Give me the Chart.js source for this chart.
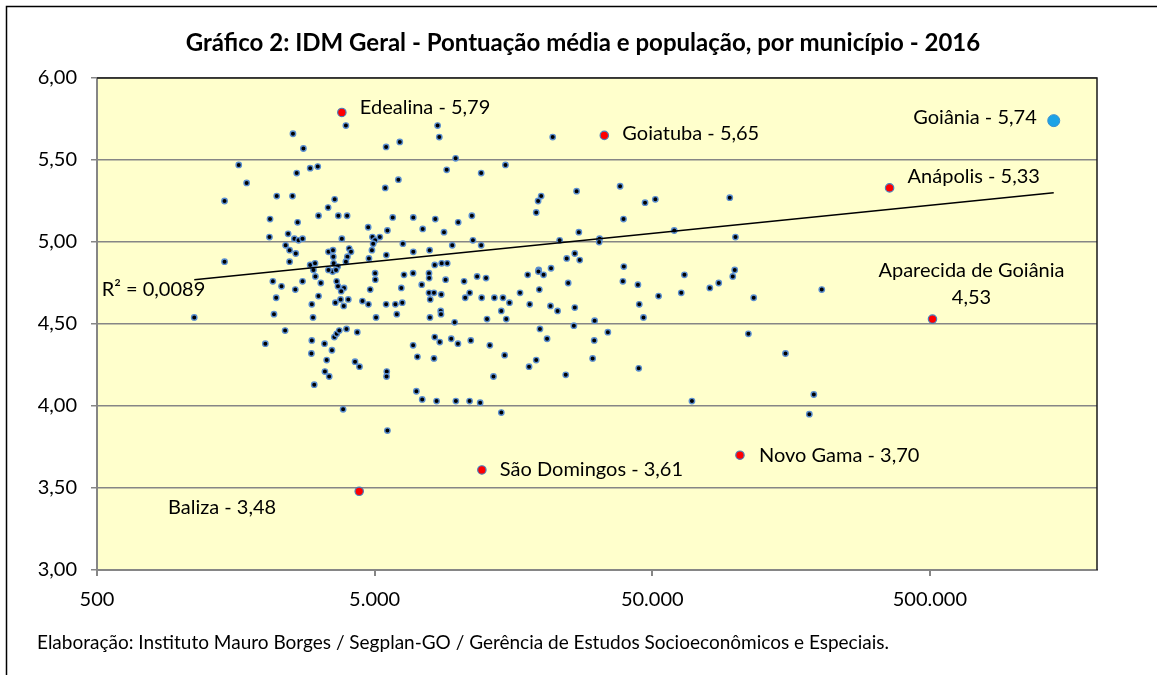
<!DOCTYPE html>
<html>
<head>
<meta charset="utf-8">
<title>IDM Geral 2016</title>
<script src="https://cdn.jsdelivr.net/npm/chart.js@4.4.1/dist/chart.umd.min.js"></script>
<style>
  html, body { margin: 0; padding: 0; background: #fff; }
  #wrap { width: 1157px; height: 675px; }
</style>
</head>
<body>
<div id="wrap"><canvas id="idmChart" width="1157" height="675"></canvas></div>
<script>
// população e pontuação IDM dos municípios
const popMunicipios = [
  3940, 2540, 2770, 5500, 1620, 2620, 2930, 3120, 1730, 5460,
  1440, 2220, 2530, 3590, 3400, 2100, 2640, 3140, 3700, 3980,
  4740, 5560, 2090, 2440, 2570, 2660, 2750, 3810, 4910, 5220,
  5020, 4940, 2390, 2470, 2600, 3410, 3540, 4050, 4110, 3990,
  4890, 5510, 4770, 1440, 2470, 2930, 3050, 3550, 3560, 3940,
  3680, 3530, 3410, 3630, 3010, 3060, 3200, 2150, 2310, 2750,
  2590, 2210, 2170, 1120, 3650, 3690, 3880, 3790, 3770, 4020,
  3610, 3870, 3140, 2970, 3000, 5020, 5030, 4820, 4520, 4750,
  5500, 5060, 2380, 2020, 2970, 2960, 3030, 3300, 3510, 3360,
  3310, 3430, 3580, 3650, 3730, 3960, 4330, 4250, 4410, 3850,
  5530, 5520, 5560, 8430, 8550, 6160, 21900, 9790, 9090, 12100,
  14800, 6090, 26700, 19900, 19400, 19100, 5810, 6890, 8270, 11200,
  10000, 7450, 8890, 27200, 6320, 9520, 11300, 12100, 23200, 6890,
  7890, 24600, 26300, 27400, 8230, 8720, 9130, 19500, 21600, 6380,
  6880, 7850, 7860, 7390, 6240, 9010, 10500, 11700, 12600, 7850,
  8180, 8690, 7930, 11000, 10600, 12150, 13500, 14500, 15300, 14300,
  14900, 12700, 5940, 6290, 6010, 7910, 8650, 8670, 9710, 17800,
  19450, 20300, 24900, 16700, 19600, 18100, 21500, 22800, 26300, 26100,
  19700, 20900, 8230, 8580, 9440, 9980, 11100, 13000, 14700, 6880,
  7130, 8180, 13400, 19100, 18000, 24400, 7070, 7420, 8360, 9810,
  10990, 12000, 14300, 38300, 47100, 51300, 95100, 39400, 60000, 32300,
  32200, 99700, 39500, 99100, 39200, 44400, 52700, 44900, 46500, 31000,
  34600, 30900, 30500, 44700, 65300, 63600, 80600, 86800, 97500, 116000,
  111000, 151000, 69500, 191000, 184000, 204000
];
const idmMunicipios = [
  5.71, 5.66, 5.57, 5.58, 5.47, 5.42, 5.45, 5.46, 5.36, 5.33,
  5.25, 5.28, 5.28, 5.26, 5.21, 5.14, 5.12, 5.16, 5.16, 5.16,
  5.09, 5.07, 5.03, 5.05, 5.02, 5.01, 5.02, 5.02, 5.03, 5.03,
  5.01, 4.99, 4.98, 4.95, 4.93, 4.94, 4.95, 4.96, 4.94, 4.91,
  4.95, 4.92, 4.90, 4.88, 4.88, 4.86, 4.87, 4.91, 4.87, 4.88,
  4.85, 4.82, 4.83, 4.83, 4.83, 4.79, 4.75, 4.76, 4.73, 4.76,
  4.71, 4.66, 4.56, 4.54, 4.76, 4.73, 4.72, 4.70, 4.65, 4.65,
  4.63, 4.61, 4.67, 4.62, 4.54, 4.81, 4.77, 4.71, 4.64, 4.62,
  4.62, 4.54, 4.46, 4.38, 4.40, 4.32, 4.13, 4.38, 4.34, 4.28,
  4.21, 4.18, 4.42, 4.44, 4.46, 4.47, 4.45, 4.27, 4.24, 3.98,
  4.21, 4.18, 3.85, 5.71, 5.64, 5.61, 5.64, 5.51, 5.44, 5.42,
  5.47, 5.38, 5.31, 5.28, 5.25, 5.18, 5.15, 5.15, 5.14, 5.16,
  5.12, 5.08, 5.06, 5.06, 4.99, 4.98, 5.01, 4.98, 5.01, 4.94,
  4.95, 4.90, 4.93, 4.89, 4.86, 4.87, 4.87, 4.83, 4.84, 4.80,
  4.81, 4.81, 4.78, 4.74, 4.72, 4.77, 4.76, 4.79, 4.78, 4.69,
  4.69, 4.68, 4.65, 4.69, 4.66, 4.66, 4.66, 4.66, 4.63, 4.58,
  4.53, 4.53, 4.62, 4.63, 4.56, 4.54, 4.58, 4.56, 4.51, 4.80,
  4.82, 4.80, 4.75, 4.69, 4.71, 4.62, 4.61, 4.58, 4.60, 4.49,
  4.47, 4.41, 4.42, 4.39, 4.41, 4.38, 4.40, 4.37, 4.31, 4.37,
  4.30, 4.29, 4.18, 4.28, 4.24, 4.19, 4.09, 4.04, 4.03, 4.03,
  4.03, 4.02, 3.96, 5.34, 5.24, 5.26, 5.27, 5.14, 5.07, 5.02,
  5.00, 5.03, 4.85, 4.83, 4.76, 4.74, 4.67, 4.62, 4.54, 4.52,
  4.45, 4.40, 4.29, 4.23, 4.80, 4.69, 4.72, 4.75, 4.79, 4.66,
  4.44, 4.32, 4.03, 4.07, 3.95, 4.71
];

// municípios destacados em vermelho
const destaqueNomes = ['Edealina', 'Goiatuba', 'Anápolis', 'Aparecida de Goiânia', 'Novo Gama', 'São Domingos', 'Baliza'];
const destaquePop = [3810, 33600, 358000, 511000, 103500, 12170, 4400];
const destaqueIdm = [5.79, 5.65, 5.33, 4.53, 3.70, 3.61, 3.48];

// capital
const capitalNome = ['Goiânia'];
const capitalPop = [1397000];
const capitalIdm = [5.74];

// linha de tendência (logarítmica) e R²
const tendenciaPop = [1120, 1397000];
const tendenciaIdm = [4.77, 5.30];
const r2Texto = 'R² = 0,0089';

const xTicks = [500, 5000, 50000, 500000];

const tituloTexto = 'Gráfico 2: IDM Geral - Pontuação média e população, por município - 2016';
const rodapeTexto = 'Elaboração: Instituto Mauro Borges / Segplan-GO / Gerência de Estudos Socioeconômicos e Especiais.';

const FONTE = 'Lato, Carlito, "Open Sans", sans-serif';

function fmtDec(v) { return Number(v).toFixed(2).replace('.', ','); }
function fmtMil(v) { return String(Math.round(v)).replace(/\B(?=(\d{3})+(?!\d))/g, '.'); }

// posição dos rótulos em relação ao ponto
const rotulosDestaque = [
  { dx: 18, dy: -5, align: 'left' },
  { dx: 18, dy: -2, align: 'left' },
  { dx: 18, dy: -11, align: 'left' },
  { dx: 39, dy: -49, align: 'center', quebra: 27 },
  { dx: 19, dy: 0, align: 'left' },
  { dx: 18, dy: 0, align: 'left' },
  { dx: -83, dy: 16, align: 'right' }
];
const rotuloCapital = { dx: -17, dy: -3, align: 'right' };

const toXY = (xs, ys) => xs.map((x, i) => ({ x: x, y: ys[i] }));

const moldura = {
  id: 'moldura',
  beforeDraw(chart) {
    const { ctx, chartArea: a } = chart;
    ctx.save();
    ctx.fillStyle = '#ffffff';
    ctx.fillRect(0, 0, chart.width, chart.height);
    ctx.fillStyle = '#ffffcc';
    ctx.fillRect(a.left, a.top, a.right - a.left, a.bottom - a.top);
    ctx.strokeStyle = '#000';
    ctx.lineWidth = 1.5;
    ctx.strokeRect(6.5, 6.5, chart.width + 20, chart.height + 20);
    ctx.restore();
  },
  beforeDatasetsDraw(chart) {
    const { ctx, chartArea: a } = chart;
    ctx.save();
    ctx.strokeStyle = '#1a1a1a';
    ctx.lineWidth = 1.5;
    ctx.beginPath();
    ctx.moveTo(a.left, a.top);
    ctx.lineTo(a.right, a.top);
    ctx.lineTo(a.right, a.bottom);
    ctx.stroke();
    ctx.restore();
  },
  afterDraw(chart) {
    const ctx = chart.ctx;
    ctx.save();
    ctx.fillStyle = '#000';
    ctx.textBaseline = 'middle';

    ctx.font = 'bold 24px ' + FONTE;
    ctx.textAlign = 'center';
    ctx.fillText(tituloTexto, 583, 43);

    ctx.font = '19px ' + FONTE;
    ctx.textAlign = 'left';
    ctx.fillText(rodapeTexto, 37, 643);

    ctx.font = '20px ' + FONTE;
    const metaD = chart.getDatasetMeta(2);
    destaqueNomes.forEach((nome, i) => {
      const el = metaD.data[i];
      const r = rotulosDestaque[i];
      ctx.textAlign = r.align;
      if (r.quebra) {
        ctx.fillText(nome, el.x + r.dx, el.y + r.dy);
        ctx.fillText(fmtDec(destaqueIdm[i]), el.x + r.dx, el.y + r.dy + r.quebra);
      } else {
        ctx.fillText(nome + ' - ' + fmtDec(destaqueIdm[i]), el.x + r.dx, el.y + r.dy);
      }
    });

    const elC = chart.getDatasetMeta(1).data[0];
    ctx.textAlign = rotuloCapital.align;
    ctx.fillText(capitalNome[0] + ' - ' + fmtDec(capitalIdm[0]), elC.x + rotuloCapital.dx, elC.y + rotuloCapital.dy);

    const xs = chart.scales.x, ys = chart.scales.y;
    ctx.textAlign = 'right';
    ctx.fillText(r2Texto, xs.getPixelForValue(tendenciaPop[0]) + 11, ys.getPixelForValue(tendenciaIdm[0]) + 10);
    ctx.restore();
  }
};

new Chart(document.getElementById('idmChart').getContext('2d'), {
  type: 'scatter',
  data: {
    datasets: [
      {
        type: 'line',
        label: 'Tendência',
        data: toXY(tendenciaPop, tendenciaIdm),
        borderColor: '#000',
        borderWidth: 1.5,
        pointRadius: 0,
        fill: false,
        tension: 0
      },
      {
        label: 'Capital',
        data: toXY(capitalPop, capitalIdm),
        pointRadius: 6,
        pointBorderWidth: 1,
        pointBackgroundColor: '#1ca3e6',
        pointBorderColor: '#3b8fd0'
      },
      {
        label: 'Destaques',
        data: toXY(destaquePop, destaqueIdm),
        pointRadius: 4.2,
        pointBorderWidth: 1.2,
        pointBackgroundColor: '#ff0000',
        pointBorderColor: '#4a7ebb'
      },
      {
        label: 'Municípios',
        data: toXY(popMunicipios, idmMunicipios),
        pointRadius: 2.7,
        pointBorderWidth: 1.4,
        pointBackgroundColor: '#000',
        pointBorderColor: '#5b8fd0'
      }
    ]
  },
  options: {
    responsive: false,
    animation: false,
    layout: { padding: { left: 0, right: 60, top: 78, bottom: 60 } },
    plugins: {
      legend: { display: false },
      tooltip: { enabled: false },
      title: { display: false }
    },
    scales: {
      x: {
        type: 'logarithmic',
        min: 500,
        max: 2000000,
        afterBuildTicks: s => { s.ticks = xTicks.map(v => ({ value: v })); },
        afterFit: s => { s.height = 45; },
        ticks: {
          callback: v => fmtMil(v),
          font: { family: FONTE, size: 20 },
          color: '#000',
          padding: 12,
          maxRotation: 0,
          autoSkip: false
        },
        grid: { drawOnChartArea: false, tickLength: 6, color: '#868686', lineWidth: 2 },
        border: { color: '#868686', width: 2 }
      },
      y: {
        min: 3,
        max: 6,
        afterFit: s => { s.width = 97; },
        ticks: {
          stepSize: 0.5,
          callback: v => fmtDec(v),
          font: { family: FONTE, size: 20 },
          color: '#000',
          padding: 14
        },
        grid: { color: '#868686', lineWidth: 1.5, tickLength: 6 },
        border: { color: '#868686', width: 2 }
      }
    }
  },
  plugins: [moldura]
});
</script>
</body>
</html>
